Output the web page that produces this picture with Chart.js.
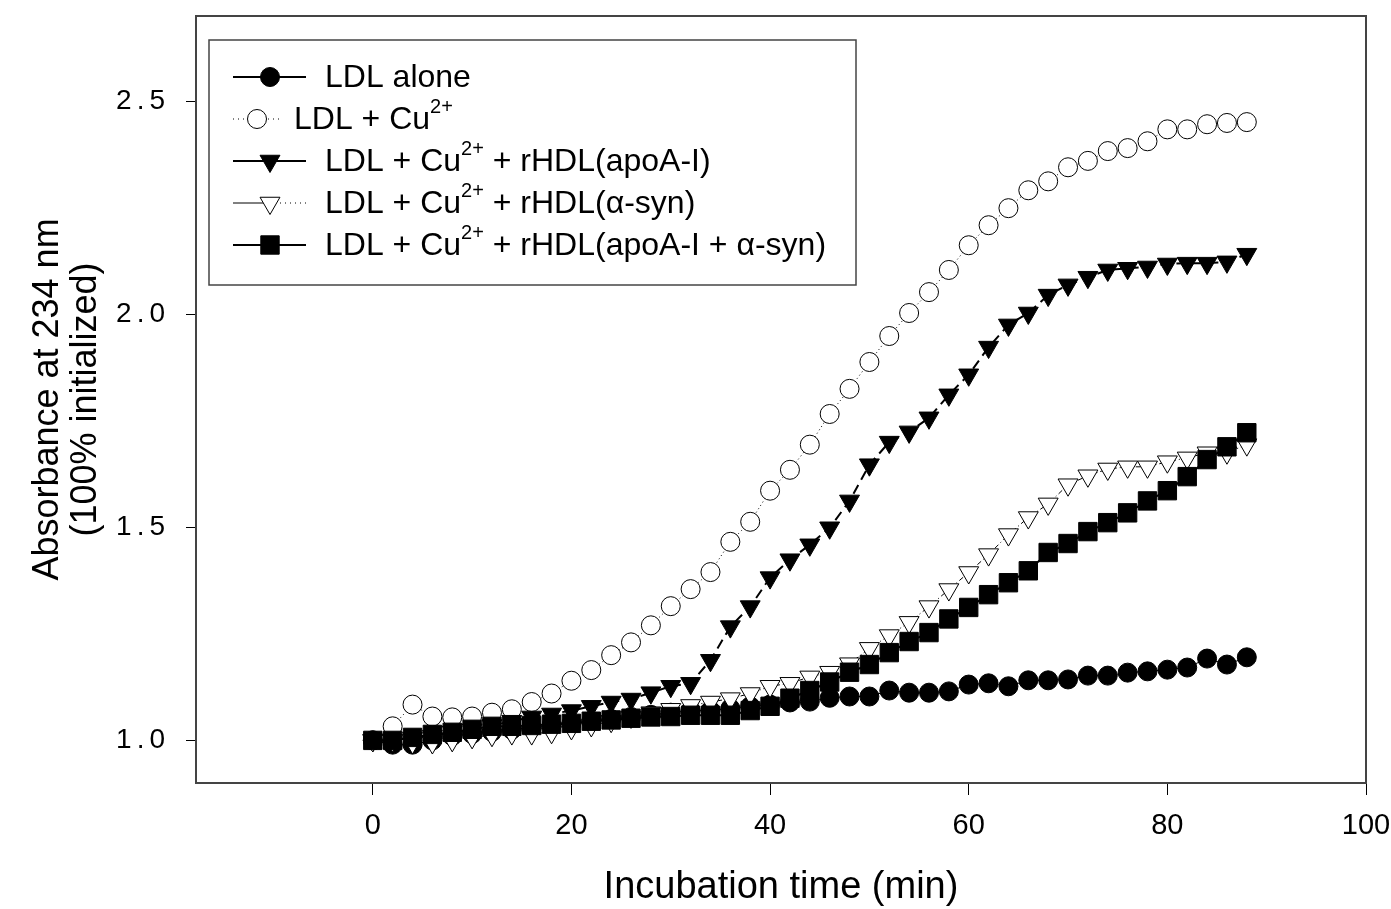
<!DOCTYPE html>
<html lang="en">
<head>
<meta charset="UTF-8">
<title>LDL oxidation kinetics</title>
<script src="https://cdn.jsdelivr.net/npm/chart.js@4"></script>
<style>
    html, body { margin: 0; padding: 0; background: #fff; }
    #grafico { display: block; }
</style>
</head>
<body>
<canvas id="grafico" width="1391" height="909"></canvas>

<script>
    // tempo de incubacao (min)
    var tempo = [0, 2, 4, 6, 8, 10, 12, 14, 16, 18, 20, 22, 24, 26, 28, 30, 32, 34, 36, 38, 40, 42, 44,
        46, 48, 50, 52, 54, 56, 58, 60, 62, 64, 66, 68, 70, 72, 74, 76, 78, 80, 82, 84, 86, 88];

    var ldlSozinho = [1.0, 0.99, 0.99, 1.0, 1.01, 1.015, 1.02, 1.025, 1.03, 1.035, 1.04, 1.045, 1.05, 1.055,
        1.06, 1.065, 1.07, 1.07, 1.075, 1.08, 1.084, 1.089, 1.091, 1.10, 1.103, 1.103, 1.117, 1.112, 1.112,
        1.115, 1.131, 1.134, 1.127, 1.141, 1.141, 1.143, 1.152, 1.152, 1.159, 1.162, 1.166, 1.171, 1.192,
        1.178, 1.195];

    var ldlCobre = [1.0, 1.033, 1.084, 1.056, 1.054, 1.056, 1.065, 1.073, 1.09, 1.11, 1.14, 1.165, 1.2, 1.23,
        1.27, 1.315, 1.355, 1.395, 1.466, 1.513, 1.586, 1.635, 1.694, 1.766, 1.825, 1.888, 1.949, 2.003, 2.052,
        2.104, 2.162, 2.209, 2.249, 2.291, 2.312, 2.345, 2.36, 2.383, 2.39, 2.406, 2.434, 2.434, 2.446,
        2.449, 2.451];

    var ldlApoA = [1.0, 1.0, 1.005, 1.01, 1.02, 1.025, 1.035, 1.045, 1.055, 1.062, 1.07, 1.08, 1.09, 1.097,
        1.112, 1.127, 1.134, 1.188, 1.267, 1.314, 1.382, 1.424, 1.459, 1.499, 1.562, 1.647, 1.70, 1.724, 1.757,
        1.811, 1.858, 1.923, 1.975, 2.003, 2.045, 2.069, 2.087, 2.104, 2.108, 2.111, 2.118, 2.12, 2.12,
        2.123, 2.141];

    var ldlSyn = [1.0, 1.0, 0.995, 0.995, 1.0, 1.007, 1.012, 1.016, 1.016, 1.019, 1.028, 1.035, 1.045, 1.055,
        1.065, 1.073, 1.082, 1.09, 1.098, 1.11, 1.127, 1.134, 1.149, 1.16, 1.18, 1.216, 1.246, 1.277, 1.314,
        1.354, 1.394, 1.436, 1.483, 1.523, 1.555, 1.60, 1.621, 1.637, 1.642, 1.642, 1.654, 1.663, 1.675,
        1.675, 1.694];

    var ldlApoASyn = [1.0, 1.0, 1.007, 1.014, 1.019, 1.026, 1.033, 1.033, 1.035, 1.038, 1.04, 1.045, 1.048,
        1.052, 1.055, 1.056, 1.059, 1.059, 1.059, 1.07, 1.08, 1.099, 1.117, 1.137, 1.16, 1.178, 1.206, 1.232,
        1.253, 1.285, 1.312, 1.342, 1.37, 1.398, 1.441, 1.462, 1.49, 1.511, 1.534, 1.562, 1.586, 1.619,
        1.659, 1.689, 1.722];

    var ticksX = [0, 20, 40, 60, 80, 100];
    var ticksY = [1.0, 1.5, 2.0, 2.5];

    // ^{...} marca o texto sobrescrito
    var legendas = ['LDL alone', 'LDL + Cu^{2+}', 'LDL + Cu^{2+} + rHDL(apoA-I)',
        'LDL + Cu^{2+} + rHDL(\u03b1-syn)', 'LDL + Cu^{2+} + rHDL(apoA-I + \u03b1-syn)'];

    var fonte = "'Liberation Sans', Arial, Helvetica, sans-serif";

    function pontos(serie) {
        return tempo.map(function (t, i) { return { x: t, y: serie[i] }; });
    }

    var dados = {
        datasets: [{
            label: legendas[0],
            data: pontos(ldlSozinho),
            borderColor: '#000',
            borderWidth: 1,
            pointStyle: 'circle',
            pointRadius: 9.5,
            pointBackgroundColor: '#000',
            pointBorderColor: '#000',
            pointBorderWidth: 1,
            order: 3
        }, {
            label: legendas[1],
            data: pontos(ldlCobre),
            borderColor: '#000',
            borderWidth: 1,
            borderDash: [1, 3],
            pointStyle: 'circle',
            pointRadius: 9.5,
            pointBackgroundColor: '#fff',
            pointBorderColor: '#000',
            pointBorderWidth: 1,
            order: 5
        }, {
            label: legendas[2],
            data: pontos(ldlApoA),
            borderColor: '#000',
            borderWidth: 2,
            borderDash: [10, 6],
            pointStyle: 'triangle',
            pointRotation: 180,
            pointRadius: 11.5,
            pointBackgroundColor: '#000',
            pointBorderColor: '#000',
            pointBorderWidth: 1,
            order: 4
        }, {
            label: legendas[3],
            data: pontos(ldlSyn),
            borderColor: '#000',
            borderWidth: 1,
            borderDash: [5, 3, 1, 3],
            pointStyle: 'triangle',
            pointRotation: 180,
            pointRadius: 11.5,
            pointBackgroundColor: '#fff',
            pointBorderColor: '#000',
            pointBorderWidth: 1,
            order: 2
        }, {
            label: legendas[4],
            data: pontos(ldlApoASyn),
            borderColor: '#000',
            borderWidth: 2,
            pointStyle: 'rect',
            pointRadius: 13,
            pointBackgroundColor: '#000',
            pointBorderColor: '#000',
            pointBorderWidth: 1,
            order: 1
        }]
    };

    // moldura completa em volta da area do grafico
    var moldura = {
        id: 'moldura',
        afterDatasetsDraw: function (chart) {
            var a = chart.chartArea, ctx = chart.ctx;
            ctx.save();
            ctx.strokeStyle = '#444';
            ctx.lineWidth = 2;
            ctx.strokeRect(a.left, a.top, a.right - a.left, a.bottom - a.top);
            ctx.restore();
        }
    };

    function textoComSobrescrito(ctx, texto, x, y) {
        var partes = texto.split(/\^\{([^}]*)\}/);
        for (var i = 0; i < partes.length; i++) {
            if (!partes[i]) continue;
            if (i % 2 == 1) {
                ctx.font = '20px ' + fonte;
                ctx.fillText(partes[i], x, y - 13);
            } else {
                ctx.font = '32px ' + fonte;
                ctx.fillText(partes[i], x, y);
            }
            x += ctx.measureText(partes[i]).width;
        }
    }

    function desenharPonto(ctx, ds, x, y) {
        ctx.save();
        ctx.fillStyle = ds.pointBackgroundColor;
        ctx.strokeStyle = ds.pointBorderColor;
        ctx.lineWidth = ds.pointBorderWidth;
        Chart.helpers.drawPoint(ctx, {
            pointStyle: ds.pointStyle,
            rotation: ds.pointRotation || 0,
            radius: ds.pointRadius,
            borderWidth: ds.pointBorderWidth
        }, x, y);
        ctx.restore();
    }

    // legenda desenhada a mao por causa do Cu2+ sobrescrito
    var legenda = {
        id: 'legendaSigma',
        afterDatasetsDraw: function (chart) {
            var a = chart.chartArea, ctx = chart.ctx;
            var bx = a.left + 13, by = a.top + 24, bw = 647, bh = 245;
            ctx.save();
            ctx.fillStyle = '#fff';
            ctx.fillRect(bx, by, bw, bh);
            ctx.strokeStyle = '#444';
            ctx.lineWidth = 1.5;
            ctx.strokeRect(bx, by, bw, bh);

            chart.data.datasets.forEach(function (ds, i) {
                var y = by + 37 + i * 42;
                var x0 = bx + 24, x1 = bx + 97, xm = bx + 61, xt = bx + 116;
                if (i == 1) { x1 = bx + 70; xm = bx + 48; xt = bx + 85; }
                ctx.save();
                ctx.strokeStyle = '#000';
                ctx.lineWidth = ds.borderWidth;
                if (i == 3) {
                    ctx.beginPath(); ctx.moveTo(x0, y); ctx.lineTo(xm, y); ctx.stroke();
                    ctx.setLineDash([1, 4]);
                    ctx.beginPath(); ctx.moveTo(xm, y); ctx.lineTo(x1, y); ctx.stroke();
                } else {
                    if (i == 1) ctx.setLineDash([1, 4]);
                    ctx.lineWidth = i == 1 ? 1 : 2;
                    ctx.beginPath(); ctx.moveTo(x0, y); ctx.lineTo(x1, y); ctx.stroke();
                }
                ctx.restore();
                desenharPonto(ctx, ds, xm, y);

                ctx.fillStyle = '#000';
                ctx.textBaseline = 'middle';
                ctx.textAlign = 'left';
                textoComSobrescrito(ctx, ds.label, xt, y + 1);
            });
            ctx.restore();
        }
    };

    // rotulos do eixo y mais espacados, como no original
    function espacarRotulos(s) {
        if (s._espacado) return;
        var original = s.drawLabels;
        s.drawLabels = function (area) {
            var c = this.ctx;
            c.save();
            c.letterSpacing = '5px';
            original.call(this, area);
            c.restore();
        };
        s._espacado = true;
    }

    var grafico = new Chart(document.getElementById('grafico'), {
        type: 'line',
        data: dados,
        options: {
            responsive: false,
            animation: false,
            devicePixelRatio: 1,
            layout: { padding: { top: 16, right: 25, left: 0, bottom: 0 } },
            plugins: {
                legend: { display: false },
                tooltip: { enabled: false }
            },
            scales: {
                x: {
                    type: 'linear',
                    min: -17.8,
                    max: 100,
                    afterBuildTicks: function (s) {
                        s.ticks = ticksX.map(function (v) { return { value: v }; });
                    },
                    afterFit: function (s) {
                        s.height = 126;
                        s.paddingLeft = 0;
                        s.paddingRight = 0;
                    },
                    grid: { drawOnChartArea: false, drawTicks: true, tickLength: 12, color: '#000' },
                    border: { display: true, color: '#444', width: 2 },
                    ticks: {
                        color: '#000',
                        padding: 14,
                        maxRotation: 0,
                        font: { family: fonte, size: 29 }
                    },
                    title: {
                        display: true,
                        text: 'Incubation time (min)',
                        color: '#000',
                        font: { family: fonte, size: 38, lineHeight: 1.0 },
                        padding: { top: 0, bottom: 2 }
                    }
                },
                y: {
                    min: 0.9,
                    max: 2.7,
                    afterBuildTicks: function (s) {
                        s.ticks = ticksY.map(function (v) { return { value: v }; });
                    },
                    afterFit: function (s) {
                        s.width = 196;
                        s.paddingTop = 0;
                        s.paddingBottom = 0;
                        espacarRotulos(s);
                    },
                    grid: { drawOnChartArea: false, drawTicks: true, tickLength: 10, color: '#000' },
                    border: { display: true, color: '#444', width: 2 },
                    ticks: {
                        color: '#000',
                        padding: 16,
                        font: { family: fonte, size: 28 },
                        callback: function (v) { return Number(v).toFixed(1); }
                    },
                    title: {
                        display: true,
                        text: ['Absorbance at 234 nm', '(100% initialized)'],
                        color: '#000',
                        font: { family: fonte, size: 36, lineHeight: 1.05 },
                        padding: { top: 29, bottom: 0 }
                    }
                }
            }
        },
        plugins: [moldura, legenda]
    });
</script>
</body>
</html>
